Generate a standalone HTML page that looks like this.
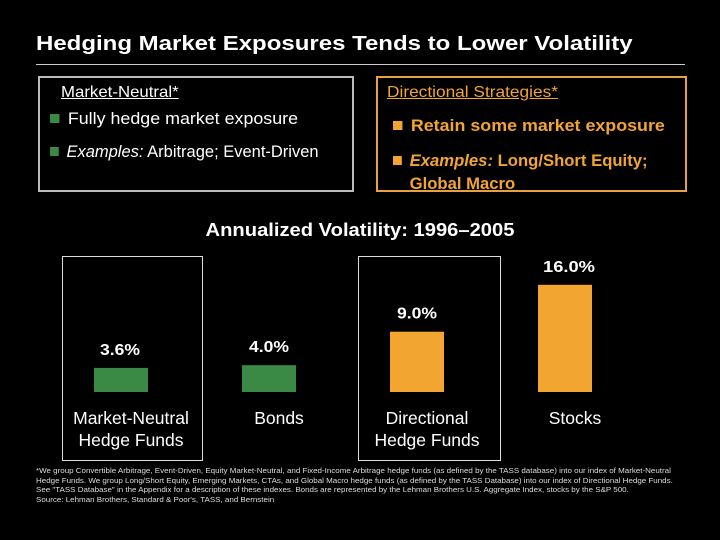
<!DOCTYPE html>
<html><head><meta charset="utf-8"><style>
body{margin:0;width:720px;height:540px;background:#000;overflow:hidden;font-family:"Liberation Sans",Arial,sans-serif;color:#fff;position:relative}
.a{position:absolute;white-space:nowrap}
.sx{transform-origin:0 0}
.sq{display:inline-block;width:9px;height:9px;margin-right:8px;vertical-align:1px}
</style></head><body>
<div class="a sx" style="left:36px;top:33px;font-size:20px;font-weight:bold;transform:scaleX(1.2)">Hedging Market Exposures Tends to Lower Volatility</div>
<div class="a" style="left:36px;top:64px;width:649px;height:1px;background:#ccc"></div>
<div class="a" style="left:38px;top:76px;width:312px;height:112px;border:2px solid #bbb">
<div class="a sx" style="left:21px;top:6px;font-size:16px;text-decoration:underline;transform:scaleX(1.05)">Market-Neutral<span style="text-decoration:none">*</span></div>
<div class="a sx" style="left:10px;top:31px;font-size:17px;transform:scaleX(1.05)"><span class="sq" style="background:#3a8a46"></span>Fully hedge market exposure</div>
<div class="a sx" style="left:10px;top:64px;font-size:17px;transform:scaleX(0.97)"><span class="sq" style="background:#3a8a46"></span><i>Examples:</i> Arbitrage; Event-Driven</div>
</div>
<div class="a" style="left:376px;top:76px;width:307px;height:112px;border:2px solid #e8a040;color:#f2a531">
<div class="a sx" style="left:9px;top:6px;font-size:16px;text-decoration:underline;transform:scaleX(1.08)">Directional Strategies<span style="text-decoration:none">*</span></div>
<div class="a sx" style="left:15px;top:38px;font-size:17px;font-weight:bold;transform:scaleX(1.05)"><span class="sq" style="background:#f2a531"></span>Retain some market exposure</div>
<div class="a sx" style="left:15px;top:71px;font-size:17px;font-weight:bold;line-height:23px;transform:scaleX(0.98)"><span class="sq" style="background:#f2a531"></span><i>Examples:</i> Long/Short Equity;<br><span style="padding-left:17px">Global Macro</span></div>
</div>
<div class="a" style="left:0;width:720px;text-align:center;top:220px;font-size:18px;font-weight:bold;transform:scaleX(1.12)">Annualized Volatility: 1996–2005</div>
<div class="a" style="left:62px;top:256px;width:139px;height:203px;border:1px solid #ddd"></div>
<div class="a" style="left:358px;top:256px;width:141px;height:203px;border:1px solid #ddd"></div>
<svg id="chart" class="a" style="left:0;top:0" width="720" height="540"></svg>
<div class="a sx" style="left:36px;top:466px;font-size:7.4px;line-height:9.6px;color:#ddd;transform:scaleX(1.08)">*We group Convertible Arbitrage, Event-Driven, Equity Market-Neutral, and Fixed-Income Arbitrage hedge funds (as defined by the TASS database) into our index of Market-Neutral<br>Hedge Funds. We group Long/Short Equity, Emerging Markets, CTAs, and Global Macro hedge funds (as defined by the TASS Database) into our index of Directional Hedge Funds.<br>See "TASS Database" in the Appendix for a description of these indexes. Bonds are represented by the Lehman Brothers U.S. Aggregate Index, stocks by the S&amp;P 500.<br>Source: Lehman Brothers, Standard &amp; Poor's, TASS, and Bernstein</div>
<script>
const categories=["Market-Neutral|Hedge Funds","Bonds","Directional|Hedge Funds","Stocks"];
const values=[3.6,4.0,9.0,16.0];
const labels=["3.6%","4.0%","9.0%","16.0%"];
const colors=["#3a8a46","#3a8a46","#f2a531","#f2a531"];
const svg=document.getElementById('chart');const NS="http://www.w3.org/2000/svg";
const base=392,scale=6.7;
const y=v=>base-v*scale;
const cx=i=>121+i*148;
values.forEach((v,i)=>{
 const r=document.createElementNS(NS,'rect');
 
 
 r.setAttribute('x',cx(i)-27);r.setAttribute('width',54);r.setAttribute('y',y(v));r.setAttribute('height',base-y(v));r.setAttribute('fill',colors[i]);svg.appendChild(r);
 const t=document.createElementNS(NS,'text');
 
 
 t.setAttribute('x',cx(i)+(i==0?-1:i==3?4:0));t.setAttribute('y',y(v)-13);t.setAttribute('text-anchor','middle');t.setAttribute('fill','#fff');t.setAttribute('font-size','16');t.setAttribute('font-weight','bold');t.setAttribute('textLength',i==3?52:40);t.setAttribute('lengthAdjust','spacingAndGlyphs');t.textContent=labels[i];svg.appendChild(t);
 categories[i].split('|').forEach((s,j)=>{
  const c=document.createElementNS(NS,'text');
  
  
  c.setAttribute('x',cx(i)+10);c.setAttribute('y',424+j*22);c.setAttribute('text-anchor','middle');c.setAttribute('fill','#fff');c.setAttribute('font-size','17.5');c.textContent=s;svg.appendChild(c);
 });
});
</script>
</body></html>
